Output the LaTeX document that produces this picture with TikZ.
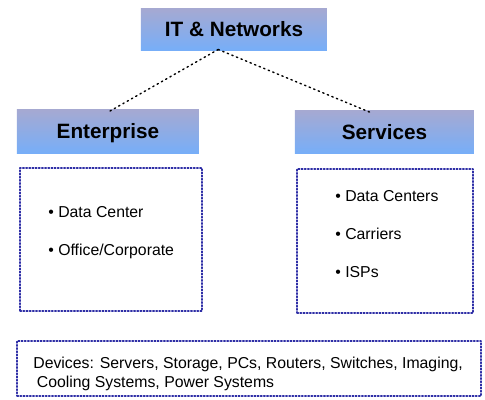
\documentclass[tikz,border=0pt]{standalone}
\usepackage{fontspec}
\setmainfont{Liberation Sans}
\definecolor{headtop}{HTML}{A6A9D1}
\definecolor{headbot}{HTML}{77AEF8}
\definecolor{dotblue}{HTML}{2E2EA6}
\begin{document}
\begin{tikzpicture}[x=0.02cm, y=-0.02cm, line join=round, line cap=round,
	head/.style={top color=headtop, bottom color=headbot, draw=none, inner sep=0pt,
		text depth=0pt, font=\fontsize{11.8}{13}\selectfont\bfseries},
	listbox/.style={draw=dotblue, densely dotted, line width=0.8pt, inner sep=0pt},
	link/.style={dotted, line width=0.8pt},
	items/.style={anchor=west, align=left, inner sep=0pt, font=\fontsize{9}{21.5}\selectfont}]
	\useasboundingbox (0,0) rectangle (485,400);
	% headings
	\node[head, minimum width=186*0.02cm, minimum height=42*0.02cm] (it) at (234,29) {IT \& Networks};
	\node[head, minimum width=182*0.02cm, minimum height=44*0.02cm] (ent) at (108,131) {Enterprise};
	\node[head, minimum width=179*0.02cm, minimum height=43*0.02cm] (serv) at (384.5,131.5) {Services};
	\draw[link] ([xshift=-9pt,yshift=0.5pt]it.south) -- ([yshift=-2pt]ent.north);
	\draw[link] ([xshift=-9pt,yshift=0.5pt]it.south) -- ([xshift=-7pt,yshift=-2pt]serv.north);
	% lists
	\node[listbox, minimum width=182*0.02cm, minimum height=143*0.02cm] (entlist) at (111,239.5) {};
	\node[listbox, minimum width=176*0.02cm, minimum height=144*0.02cm] (servlist) at (385,241) {};
	\node[items] (entitems) at (48,233) {• Data Center\\• Office/Corporate};
	\node[items] (servitems) at (335,234) {• Data Centers\\• Carriers\\• ISPs};
	% devices
	\node[listbox, minimum width=464*0.02cm, minimum height=55*0.02cm] (dev) at (249,368.5) {};
	\node[items, font=\fontsize{9}{10.8}\selectfont] (devtext) at (33,373.5)
		{Devices: Servers, Storage, PCs, Routers, Switches, Imaging,\\\hspace{2pt}Cooling Systems, Power Systems};
\end{tikzpicture}
\end{document}
